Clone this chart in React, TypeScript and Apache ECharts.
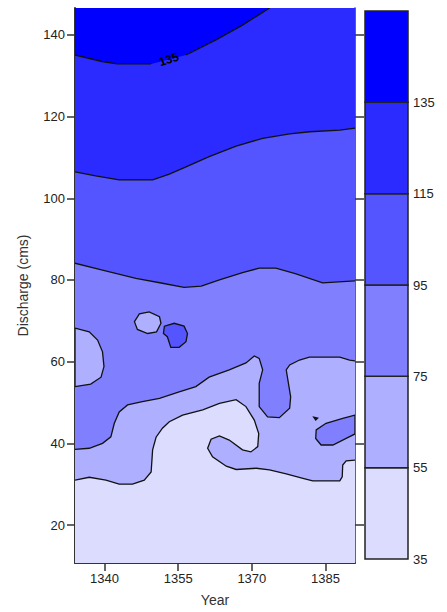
import React, { useEffect, useRef } from "react";
import * as echarts from "echarts";

// ---- axis ranges & ticks ----
const xMin = 1334;
const xMax = 1391;
const yMin = 10.7;
const yMax = 146.6;
const yearTicks = [1340, 1355, 1370, 1385];
const dischargeTicks = [20, 40, 60, 80, 100, 120, 140];

// ---- contour levels and colours ----
const levels = [35, 55, 75, 95, 115, 135, 155];
const levelLabels = [35, 55, 75, 95, 115, 135];
const levelColors = ["#DCDCFF", "#AFAFFF", "#8080FF", "#5555FF", "#2B2BFF", "#0000FF"];

// ---- contour lines (Year, Discharge) ----
const contour55: number[][] = [
  [1334, 31.0], [1336.9, 31.7], [1340.3, 31.0], [1343.0, 30.0], [1345.7, 30.0], [1348.1, 31.0],
  [1349.5, 33.0], [1349.8, 38.4], [1350.5, 41.5], [1351.8, 43.7], [1353.2, 45.3], [1355.9, 46.9],
  [1360.0, 48.2], [1363.4, 49.8], [1366.8, 50.7], [1368.8, 49.0], [1370.5, 45.7], [1371.4, 42.4],
  [1371.2, 39.2], [1369.8, 37.9], [1368.1, 38.4], [1365.4, 40.8], [1363.4, 41.8], [1361.7, 41.0],
  [1361.0, 38.8], [1362.0, 36.7], [1364.8, 34.4], [1366.8, 33.6], [1370.9, 33.9], [1373.6, 33.5],
  [1377.0, 32.5], [1380.4, 31.4], [1382.4, 30.8], [1387.9, 30.8], [1388.4, 31.8], [1388.5, 34.7],
  [1389.2, 35.7], [1391, 35.9],
];
const contour75: number[][] = [
  [1334, 38.5], [1336.9, 38.8], [1339.6, 40.0], [1341.3, 41.6], [1342.0, 44.9], [1343.0, 47.7],
  [1344.7, 49.4], [1347.7, 50.2], [1351.2, 51.0], [1355.2, 52.6], [1358.6, 53.9], [1361.3, 56.2],
  [1365.4, 58.0], [1368.8, 59.7], [1370.5, 61.4], [1371.5, 60.8], [1372.2, 58.0], [1371.5, 54.7],
  [1371.5, 49.0], [1373.2, 46.5], [1375.6, 46.3], [1377.7, 48.6], [1377.9, 51.4], [1377.0, 58.0],
  [1377.7, 59.2], [1379.7, 60.4], [1381.7, 61.1], [1387.9, 61.1], [1389.9, 60.4], [1391, 60.2],
];
const contour95: number[][] = [
  [1334, 84.1], [1339.6, 82.4], [1346.4, 80.4], [1351.8, 79.2], [1356.2, 78.2], [1359.7, 78.5],
  [1363.4, 80.0], [1368.1, 81.8], [1371.5, 82.9], [1374.9, 82.9], [1379.0, 81.5], [1384.4, 79.3],
  [1391, 79.8],
];
const contour115: number[][] = [
  [1334, 106.5], [1338.2, 105.5], [1343.0, 104.5], [1349.8, 104.5], [1353.2, 105.9], [1356.6, 107.7],
  [1361.3, 110.2], [1366.8, 112.8], [1372.2, 114.7], [1377.7, 115.8], [1381.8, 116.3], [1387.9, 116.7],
  [1391, 117.2],
];
const contour135West: number[][] = [[1334, 135.1], [1339.5, 133.5], [1342.6, 132.9], [1349.5, 132.9]];
const contour135Label: number[] = [1353.1, 134.0];
const contour135East: number[][] = [[1356.6, 135.1], [1362.7, 138.8], [1368.1, 142.4], [1373.6, 146.6]];

// closed islands
const islandLowCircle: number[][] = [
  [1346.1, 69.8], [1347.1, 71.7], [1349.1, 72.2], [1351.2, 71.0], [1351.5, 69.4], [1350.6, 67.3],
  [1348.8, 66.9], [1346.7, 67.9],
];
const islandLowLeft: number[][] = [
  [1334, 68.2], [1336.9, 67.3], [1338.6, 65.3], [1339.6, 62.4], [1339.9, 58.8], [1339.3, 56.2],
  [1337.2, 54.5], [1334, 53.9],
];
const islandHigh: number[][] = [
  [1352.0, 66.9], [1352.2, 68.7], [1354.2, 69.4], [1356.2, 68.7], [1356.9, 66.9], [1356.6, 64.9],
  [1355.2, 63.5], [1353.5, 63.5], [1352.8, 66.1],
];
const islandMidRight: number[][] = [
  [1391, 46.9], [1388.5, 46.1], [1385.1, 44.9], [1383.1, 43.3], [1383.0, 41.2], [1384.1, 39.6],
  [1386.5, 39.6], [1389.2, 41.2], [1391, 42.3],
];
const islandSpeck: number[][] = [[1382.6, 46.4], [1383.4, 46.2], [1383.0, 45.7]];

type Shape = { kind: "fill" | "line" | "island" | "label"; pts: number[][]; color?: string; text?: string };

const topClose = (c: number[][]) => c.concat([[xMax, yMax], [xMin, yMax]]);

const shapes: Shape[] = [
  { kind: "fill", pts: [[xMin, yMin], [xMax, yMin], [xMax, yMax], [xMin, yMax]], color: levelColors[0] },
  { kind: "fill", pts: topClose(contour55), color: levelColors[1] },
  { kind: "fill", pts: topClose(contour75), color: levelColors[2] },
  { kind: "island", pts: islandLowCircle, color: levelColors[1] },
  { kind: "island", pts: islandLowLeft, color: levelColors[1] },
  { kind: "island", pts: islandMidRight, color: levelColors[2] },
  { kind: "island", pts: islandSpeck, color: "#222" },
  { kind: "fill", pts: topClose(contour95), color: levelColors[3] },
  { kind: "island", pts: islandHigh, color: levelColors[3] },
  { kind: "fill", pts: topClose(contour115), color: levelColors[4] },
  {
    kind: "fill",
    pts: contour135West.concat([contour135Label], contour135East, [[xMin, yMax]]),
    color: levelColors[5],
  },
  { kind: "line", pts: contour55 },
  { kind: "line", pts: contour75 },
  { kind: "line", pts: contour95 },
  { kind: "line", pts: contour115 },
  { kind: "line", pts: contour135West },
  { kind: "line", pts: contour135East },
  { kind: "label", pts: [contour135Label], text: "135" },
];

const bands = levelLabels.map((lo, i) => [0, lo, levels[i + 1]]);

const FONT = "'Liberation Sans', Arial, sans-serif";

export default function App() {
  const ref = useRef<HTMLDivElement>(null);
  useEffect(() => {
    if (!ref.current) return;
    const chart = echarts.init(ref.current, undefined, { renderer: "svg" });
    const option: any = {
      animation: false,
      backgroundColor: "#ffffff",
      grid: [
        { left: 75, right: 92, top: 8, bottom: 49 },
        { left: 365, right: 39, top: 11, bottom: 53 },
      ],
      xAxis: [
        {
          type: "value",
          gridIndex: 0,
          min: xMin,
          max: xMax,
          name: "Year",
          nameLocation: "middle",
          nameGap: 30,
          nameTextStyle: { fontFamily: FONT, fontSize: 14, color: "#333" },
          axisLine: { show: true, lineStyle: { color: "#333", width: 2 } },
          axisTick: { show: true, inside: false, length: 8, customValues: yearTicks, lineStyle: { color: "#333", width: 1.5 } },
          axisLabel: {
            show: true,
            customValues: yearTicks,
            margin: 9,
            fontFamily: FONT,
            fontSize: 13,
            color: "#222",
            formatter: (v: number) => String(v),
          },
          splitLine: { show: false },
        },
        { type: "value", gridIndex: 1, min: 0, max: 1, show: false },
      ],
      yAxis: [
        {
          type: "value",
          gridIndex: 0,
          min: yMin,
          max: yMax,
          position: "left",
          name: "Discharge (cms)",
          nameLocation: "middle",
          nameGap: 45,
          nameTextStyle: { fontFamily: FONT, fontSize: 14, color: "#333" },
          axisLine: { show: true, lineStyle: { color: "#333", width: 2 } },
          axisTick: { show: true, inside: false, length: 8, customValues: dischargeTicks, lineStyle: { color: "#333", width: 1.5 } },
          axisLabel: {
            show: true,
            customValues: dischargeTicks,
            margin: 10,
            fontFamily: FONT,
            fontSize: 13,
            color: "#222",
            formatter: (v: number) => String(v),
          },
          splitLine: { show: false },
        },
        {
          type: "value",
          gridIndex: 0,
          min: yMin,
          max: yMax,
          position: "right",
          axisLine: { show: true, lineStyle: { color: "#333", width: 1.5 } },
          axisTick: { show: true, inside: false, length: 9, customValues: dischargeTicks, lineStyle: { color: "#333", width: 1.5 } },
          axisLabel: { show: false },
          splitLine: { show: false },
        },
        {
          type: "value",
          gridIndex: 1,
          min: 35,
          max: 155,
          position: "right",
          axisLine: { show: false },
          axisTick: { show: false },
          axisLabel: {
            show: true,
            customValues: levelLabels,
            margin: 5,
            fontFamily: FONT,
            fontSize: 13,
            color: "#222",
            formatter: (v: number) => String(v),
          },
          splitLine: { show: false },
        },
      ],
      series: [
        {
          type: "custom",
          xAxisIndex: 0,
          yAxisIndex: 0,
          clip: true,
          silent: true,
          data: shapes.map((s) => s.pts[0]),
          renderItem: (params: any, api: any) => {
            const s = shapes[params.dataIndex];
            const pts = s.pts.map((p) => api.coord(p));
            if (s.kind === "fill") {
              return { type: "polygon", shape: { points: pts }, style: { fill: s.color, stroke: null } };
            }
            if (s.kind === "island") {
              return {
                type: "polygon",
                shape: { points: pts },
                style: { fill: s.color, stroke: "#111", lineWidth: 1.3 },
              };
            }
            if (s.kind === "line") {
              return {
                type: "polyline",
                shape: { points: pts },
                style: { fill: null, stroke: "#111", lineWidth: 1.3 },
              };
            }
            return {
              type: "text",
              x: pts[0][0],
              y: pts[0][1],
              rotation: 0.3,
              style: {
                text: s.text,
                fill: "#000",
                font: "bold 12px " + FONT,
                align: "center",
                verticalAlign: "middle",
              },
            };
          },
        },
        {
          type: "custom",
          xAxisIndex: 1,
          yAxisIndex: 2,
          silent: true,
          data: bands,
          encode: { x: 0, y: [1, 2] },
          renderItem: (params: any, api: any) => {
            const p1 = api.coord([0, api.value(2)]);
            const p2 = api.coord([1, api.value(1)]);
            return {
              type: "rect",
              shape: { x: p1[0], y: p1[1], width: p2[0] - p1[0], height: p2[1] - p1[1] },
              style: { fill: levelColors[params.dataIndex], stroke: "#222", lineWidth: 1.5 },
            };
          },
        },
      ],
    };
    chart.setOption(option);
    return () => chart.dispose();
  }, []);
  return <div ref={ref} style={{ position: "fixed", left: 0, top: 0, width: 447, height: 612 }} />;
}
